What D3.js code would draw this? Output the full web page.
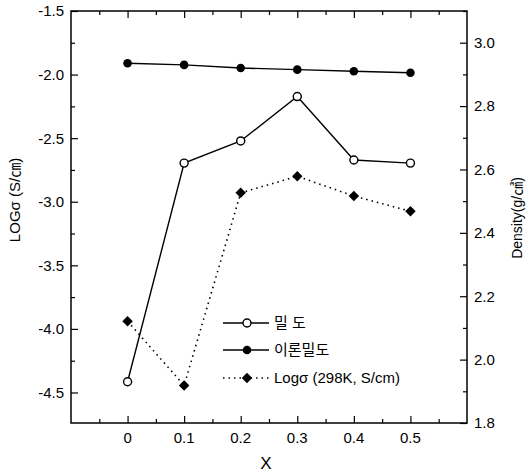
<!DOCTYPE html>
<html><head><meta charset="utf-8">
<script src="https://cdn.jsdelivr.net/npm/d3@7"></script>
<style>
html,body{margin:0;padding:0;background:#fff;}
svg{display:block;}
text{font-family:"Liberation Sans",Arial,"Noto Sans CJK KR",sans-serif;fill:#000;}
</style></head>
<body>
<script>
const xValues = [0, 0.1, 0.2, 0.3, 0.4, 0.5];
const measuredDensity = [1.93, 2.62, 2.69, 2.83, 2.63, 2.62];
const theoreticalDensity = [2.935, 2.93, 2.92, 2.915, 2.91, 2.905];
const logSigma = [-3.94, -4.445, -2.93, -2.80, -2.955, -3.075];
const xTicks = [0, 0.1, 0.2, 0.3, 0.4, 0.5];
const xTickLabels = ["0", "0.1", "0.2", "0.3", "0.4", "0.5"];
const leftTicks = [-1.5, -2.0, -2.5, -3.0, -3.5, -4.0, -4.5];
const leftTickLabels = ["-1.5", "-2.0", "-2.5", "-3.0", "-3.5", "-4.0", "-4.5"];
const rightTicks = [1.8, 2.0, 2.2, 2.4, 2.6, 2.8, 3.0];
const rightTickLabels = ["1.8", "2.0", "2.2", "2.4", "2.6", "2.8", "3.0"];
const legendLabels = ["밀 도", "이론밀도", "Logσ (298K, S/cm)"];

const W = 529, H = 474;
const L = 71, R = 467, T = 11, B = 423;

const svg = d3.select("body").append("svg").attr("width", W).attr("height", H);

const x = d3.scaleLinear().domain([-0.1, 0.6]).range([L, R]);
const yL = d3.scaleLinear().domain([-4.74, -1.5]).range([B, T]);
const yR = d3.scaleLinear().domain([1.8, 3.1]).range([B, T]);

// frame
svg.append("rect").attr("x", L).attr("y", T).attr("width", R - L).attr("height", B - T)
  .attr("fill", "none").attr("stroke", "#000").attr("stroke-width", 1.5);

// bottom axis (inward ticks)
const xMinor = d3.range(-0.05, 0.6, 0.05).filter(v => Math.abs(Math.round(v * 10) / 10 - v) > 0.01);
const bottomAxis = d3.axisTop(x).tickValues(xTicks).tickSize(7).tickFormat((d, i) => "");
svg.append("g").attr("transform", `translate(0,${B})`).call(bottomAxis)
  .call(g => g.select(".domain").remove()).selectAll("line").attr("stroke-width", 1.2);
svg.append("g").attr("transform", `translate(0,${B})`)
  .call(d3.axisTop(x).tickValues(xMinor).tickSize(4).tickFormat(""))
  .call(g => g.select(".domain").remove()).selectAll("line").attr("stroke-width", 1.2);
// bottom labels
svg.append("g").selectAll("text").data(xTicks).join("text")
  .attr("x", d => x(d)).attr("y", 443).attr("text-anchor", "middle")
  .attr("font-size", 15).text((d, i) => xTickLabels[i]);
// top axis ticks
svg.append("g").attr("transform", `translate(0,${T})`)
  .call(d3.axisBottom(x).tickValues(xTicks).tickSize(7).tickFormat(""))
  .call(g => g.select(".domain").remove()).selectAll("line").attr("stroke-width", 1.2);
svg.append("g").attr("transform", `translate(0,${T})`)
  .call(d3.axisBottom(x).tickValues(xMinor).tickSize(4).tickFormat(""))
  .call(g => g.select(".domain").remove()).selectAll("line").attr("stroke-width", 1.2);

// left axis
const lMinor = d3.range(-1.75, -4.75, -0.5);
svg.append("g").attr("transform", `translate(${L},0)`)
  .call(d3.axisRight(yL).tickValues(leftTicks).tickSize(7).tickFormat(""))
  .call(g => g.select(".domain").remove()).selectAll("line").attr("stroke-width", 1.2);
svg.append("g").attr("transform", `translate(${L},0)`)
  .call(d3.axisRight(yL).tickValues(lMinor).tickSize(4).tickFormat(""))
  .call(g => g.select(".domain").remove()).selectAll("line").attr("stroke-width", 1.2);
svg.append("g").selectAll("text").data(leftTicks).join("text")
  .attr("x", L - 7).attr("y", d => yL(d)).attr("dy", "0.36em").attr("text-anchor", "end")
  .attr("font-size", 15).text((d, i) => leftTickLabels[i]);

// right axis
const rMinor = [1.9, 2.1, 2.3, 2.5, 2.7, 2.9, 3.1];
svg.append("g").attr("transform", `translate(${R},0)`)
  .call(d3.axisLeft(yR).tickValues(rightTicks).tickSize(7).tickFormat(""))
  .call(g => g.select(".domain").remove()).selectAll("line").attr("stroke-width", 1.2);
svg.append("g").attr("transform", `translate(${R},0)`)
  .call(d3.axisLeft(yR).tickValues(rMinor).tickSize(4).tickFormat(""))
  .call(g => g.select(".domain").remove()).selectAll("line").attr("stroke-width", 1.2);
svg.append("g").selectAll("text").data(rightTicks).join("text")
  .attr("x", R + 7).attr("y", d => yR(d)).attr("dy", "0.36em").attr("text-anchor", "start")
  .attr("font-size", 15).text((d, i) => rightTickLabels[i]);

// axis titles
svg.append("text").attr("transform", "translate(20,200) rotate(-90)")
  .attr("text-anchor", "middle").attr("font-size", 15).text("LOGσ (S/㎝)");
svg.append("text").attr("transform", "translate(522,218) rotate(-90)")
  .attr("text-anchor", "middle").attr("font-size", 14).text("Density(g/㎤)");
svg.append("text").attr("x", (L + R) / 2 - 3).attr("y", 469).attr("text-anchor", "middle")
  .attr("font-size", 17).text("X");

// series
const lineGen = (ys, ydata) => d3.line().x((d, i) => x(xValues[i])).y((d, i) => ys(ydata[i]));

svg.append("path").datum(theoreticalDensity).attr("d", lineGen(yR, theoreticalDensity))
  .attr("fill", "none").attr("stroke", "#000").attr("stroke-width", 1.4);
svg.append("g").selectAll("circle").data(theoreticalDensity).join("circle")
  .attr("cx", (d, i) => x(xValues[i])).attr("cy", d => yR(d)).attr("r", 4.3).attr("fill", "#000");

svg.append("path").datum(measuredDensity).attr("d", lineGen(yR, measuredDensity))
  .attr("fill", "none").attr("stroke", "#000").attr("stroke-width", 1.4);
svg.append("g").selectAll("circle").data(measuredDensity).join("circle")
  .attr("cx", (d, i) => x(xValues[i])).attr("cy", d => yR(d)).attr("r", 4)
  .attr("fill", "#fff").attr("stroke", "#000").attr("stroke-width", 1.4);

svg.append("path").datum(logSigma).attr("d", lineGen(yL, logSigma))
  .attr("fill", "none").attr("stroke", "#000").attr("stroke-width", 1.6).attr("stroke-dasharray", "1.5,4");
const diamond = d3.symbol().type(d3.symbolDiamond2).size(70);
svg.append("g").selectAll("path").data(logSigma).join("path")
  .attr("transform", (d, i) => `translate(${x(xValues[i])},${yL(d)})`)
  .attr("d", diamond).attr("fill", "#000");

// legend
const legY = [323, 350, 378];
const lx1 = 223, lx2 = 269, lm = 247;
const lg = svg.append("g");
// row 1
lg.append("line").attr("x1", lx1).attr("x2", lx2).attr("y1", legY[0]).attr("y2", legY[0]).attr("stroke", "#000").attr("stroke-width", 1.4);
lg.append("circle").attr("cx", lm).attr("cy", legY[0]).attr("r", 4).attr("fill", "#fff").attr("stroke", "#000").attr("stroke-width", 1.4);
// row 2
lg.append("line").attr("x1", lx1).attr("x2", lx2).attr("y1", legY[1]).attr("y2", legY[1]).attr("stroke", "#000").attr("stroke-width", 1.4);
lg.append("circle").attr("cx", lm).attr("cy", legY[1]).attr("r", 4.3).attr("fill", "#000");
// row 3
lg.append("line").attr("x1", lx1).attr("x2", lx2).attr("y1", legY[2]).attr("y2", legY[2]).attr("stroke", "#000").attr("stroke-width", 1.3).attr("stroke-dasharray", "1.5,4");
lg.append("path").attr("transform", `translate(${lm},${legY[2]})`).attr("d", diamond).attr("fill", "#000");
lg.selectAll("text").data(legendLabels).join("text")
  .attr("x", 274).attr("y", (d, i) => legY[i]).attr("dy", "0.36em")
  .attr("font-size", 15).text(d => d);
</script>
</body></html>
